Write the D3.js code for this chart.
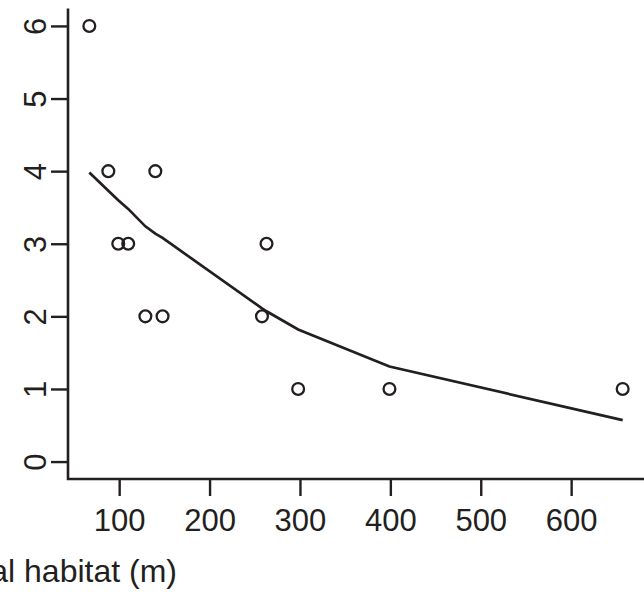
<!DOCTYPE html>
<html>
<head>
<meta charset="utf-8">
<script src="https://cdn.jsdelivr.net/npm/d3@7"></script>
<style>
    body { margin: 0; background: #fff; }
    text { font-family: "Liberation Sans", Arial, sans-serif; fill: #231f20; }
</style>
</head>
<body>
<svg id="chart" width="644" height="592"></svg>
<script>
// observed points: distance (m) vs count
const distance = [67, 88, 99, 110, 129, 140, 148, 258, 263, 298, 399, 657];
const count    = [6, 4, 3, 3, 2, 4, 2, 2, 3, 1, 1, 1];
// smoothed fit, one value per distance
const fitted   = [3.98, 3.73, 3.60, 3.48, 3.24, 3.14, 3.08, 2.11, 2.07, 1.82, 1.31, 0.57];

const xTicks = [100, 200, 300, 400, 500, 600];
const yTicks = [0, 1, 2, 3, 4, 5, 6];
// only the end of the axis title is visible in the source picture
const xLabel = "al habitat (m)";

const ink = "#231f20";
const margin = { top: 8.5, right: 0, bottom: 113, left: 68 };
const width = 644, height = 592;

// R-style 4% padding on the data range
const pad = (lo, hi) => [lo - (hi - lo) * 0.04, hi + (hi - lo) * 0.04];

const x = d3.scaleLinear()
    .domain(pad(d3.min(distance), d3.max(distance)))
    .range([margin.left, width - margin.right]);

const y = d3.scaleLinear()
    .domain(pad(0, 6))
    .range([height - margin.bottom, margin.top]);

const svg = d3.select("#chart");

// L-shaped frame
svg.append("path")
    .attr("d", `M${margin.left},${margin.top} V${height - margin.bottom} H${width}`)
    .attr("fill", "none")
    .attr("stroke", ink)
    .attr("stroke-width", 2.6);

// x axis
const xAxis = svg.append("g")
    .attr("transform", `translate(0, ${height - margin.bottom})`)
    .call(d3.axisBottom(x).tickValues(xTicks).tickSize(17).tickSizeOuter(0).tickPadding(13));
xAxis.select(".domain").remove();
xAxis.selectAll("line").attr("stroke", ink).attr("stroke-width", 2.4);
xAxis.selectAll("text")
    .attr("font-size", 31)
    .style("font-family", "'Liberation Sans', Arial, sans-serif")
    .attr("fill", ink);

// y axis, labels rotated parallel to the axis
const yAxis = svg.append("g")
    .attr("transform", `translate(${margin.left}, 0)`)
    .call(d3.axisLeft(y).tickValues(yTicks).tickSize(17).tickSizeOuter(0).tickFormat(d3.format("d")));
yAxis.select(".domain").remove();
yAxis.selectAll("line").attr("stroke", ink).attr("stroke-width", 2.4);
yAxis.selectAll("text")
    .attr("x", null)
    .attr("dy", null)
    .attr("text-anchor", "middle")
    .attr("font-size", 31)
    .style("font-family", "'Liberation Sans', Arial, sans-serif")
    .attr("fill", ink)
    .attr("transform", "translate(-22.5, 0) rotate(-90)");

// axis title (cut off by the left edge)
svg.append("text")
    .attr("x", 177)
    .attr("y", 581.5)
    .attr("text-anchor", "end")
    .attr("font-size", 32)
    .text(xLabel);

// fitted line
const line = d3.line()
    .x((d, i) => x(distance[i]))
    .y(d => y(d));

svg.append("path")
    .datum(fitted)
    .attr("d", line)
    .attr("fill", "none")
    .attr("stroke", ink)
    .attr("stroke-width", 2.7);

// points
svg.selectAll("circle.pt")
    .data(distance)
    .enter()
    .append("circle")
    .attr("class", "pt")
    .attr("cx", d => x(d))
    .attr("cy", (d, i) => y(count[i]))
    .attr("r", 5.9)
    .attr("fill", "none")
    .attr("stroke", ink)
    .attr("stroke-width", 2.3);
</script>
</body>
</html>
